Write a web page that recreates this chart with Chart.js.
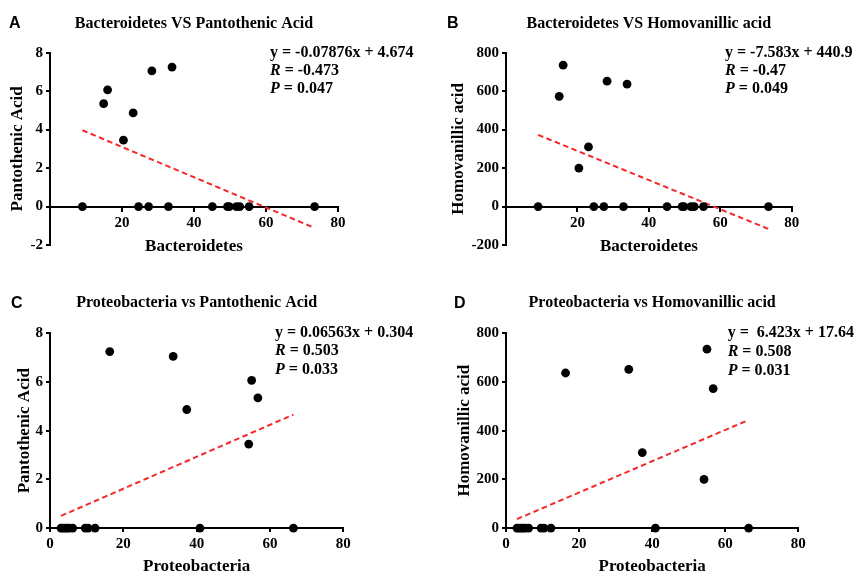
<!DOCTYPE html>
<html>
<head>
<meta charset="utf-8">
<script src="https://cdn.jsdelivr.net/npm/chart.js@4.4.1/dist/chart.umd.min.js"></script>
<style>
  html, body { margin: 0; padding: 0; background: #fff; overflow: hidden; }
  .panel { position: absolute; }
</style>
</head>
<body>
<div class="panel" style="left:0;top:0;width:430px;height:290px"><canvas id="chart-a"></canvas></div>
<div class="panel" style="left:430px;top:0;width:433px;height:290px"><canvas id="chart-b"></canvas></div>
<div class="panel" style="left:0;top:290px;width:430px;height:287px"><canvas id="chart-c"></canvas></div>
<div class="panel" style="left:430px;top:290px;width:433px;height:287px"><canvas id="chart-d"></canvas></div>
<script>
// one entry per sample, the first six are the ones with a measurable metabolite
const bacteroidetes = [14.9, 16.0, 20.4, 23.1, 28.3, 33.9, 9.0, 24.6, 27.4, 32.9, 45.1, 49.3, 49.8, 51.8, 52.7, 55.3, 73.5];
const proteobacteria = [56.7, 55.0, 54.2, 37.3, 33.6, 16.3, 3.0, 3.5, 4.1, 4.7, 5.3, 6.2, 9.6, 10.4, 12.3, 40.9, 66.4];
const pantothenicAcid = [5.35, 6.07, 3.45, 4.87, 7.05, 7.25, 0, 0, 0, 0, 0, 0, 0, 0, 0, 0, 0];
const homovanillicAcid = [573, 735, 200, 310, 652, 637, 0, 0, 0, 0, 0, 0, 0, 0, 0, 0, 0];

const panelLetters = ['A', 'B', 'C', 'D'];
const panelTitles = [
    'Bacteroidetes VS Pantothenic Acid',
    'Bacteroidetes VS Homovanillic acid',
    'Proteobacteria vs Pantothenic Acid',
    'Proteobacteria vs Homovanillic acid'
];
const fitSlopes = [-0.07876, -7.583, 0.06563, 6.423];
const fitIntercepts = [4.674, 440.9, 0.304, 17.64];
const fitEquations = ['y = -0.07876x + 4.674', 'y = -7.583x + 440.9', 'y = 0.06563x + 0.304', 'y =  6.423x + 17.64'];
const rValues = ['-0.473', '-0.47', '0.503', '0.508'];
const pValues = ['0.047', '0.049', '0.033', '0.031'];
const yMins = [-2, -200, 0, 0];
const yMaxs = [8, 800, 8, 800];
const ySteps = [2, 200, 2, 200];
const xMin = 0;
const xMax = 80;
const xStep = 20;

const serif = '"Liberation Serif", "Times New Roman", serif';

const statsPlugin = {
    id: 'stats',
    afterDraw(chart, args, opts) {
        const ctx = chart.ctx;
        ctx.save();
        ctx.fillStyle = '#000';
        ctx.textBaseline = 'middle';
        ctx.textAlign = 'left';
        ctx.font = 'bold 16px "Liberation Sans", Arial, sans-serif';
        ctx.fillText(opts.letter, opts.letterX, opts.letterY);
        ctx.font = 'bold 16px ' + serif;
        ctx.fillText(opts.equation, opts.textX, opts.textY);
        [['R', opts.r], ['P', opts.p]].forEach(function (pair, k) {
            const y = opts.textY + (k + 1) * opts.lineGap;
            ctx.font = 'italic bold 16px ' + serif;
            ctx.fillText(pair[0], opts.textX, y);
            const w = ctx.measureText(pair[0]).width;
            ctx.font = 'bold 16px ' + serif;
            ctx.fillText(' = ' + pair[1], opts.textX + w, y);
        });
        ctx.restore();
    }
};

const layouts = [
    { chartLeft: 50, padRight: 92, padBottom: 45, titlePad: { top: 14.4, bottom: 19.1 }, yTitlePad: 7.3, xTitlePad: 1, letterX: 9, letterY: 23.5, textX: 270, textY: 53, lineGap: 18, crossAtZero: true },
    { chartLeft: 76, padRight: 71.3, padBottom: 45, titlePad: { top: 14.4, bottom: 19.1 }, yTitlePad: 18.3, xTitlePad: 1, letterX: 17, letterY: 24, textX: 295, textY: 53, lineGap: 18, crossAtZero: true },
    { chartLeft: 50, padRight: 86.7, padBottom: 0, titlePad: { top: 3.7, bottom: 20.4 }, yTitlePad: 14.8, xTitlePad: 0, letterX: 11, letterY: 14, textX: 275, textY: 42.7, lineGap: 18.6, crossAtZero: false },
    { chartLeft: 76, padRight: 64.7, padBottom: 0, titlePad: { top: 3.7, bottom: 20.4 }, yTitlePad: 24.8, xTitlePad: 0, letterX: 24, letterY: 14, textX: 297.7, textY: 43.3, lineGap: 18.6, crossAtZero: false }
];

function makePanel(canvasId, i, xValues, yValues, xName, yName) {
    const lay = layouts[i];
    const points = xValues.map(function (x, k) { return { x: x, y: yValues[k] }; });
    const lo = Math.min.apply(null, xValues);
    const hi = Math.max.apply(null, xValues);
    const fitLine = [
        { x: lo, y: fitSlopes[i] * lo + fitIntercepts[i] },
        { x: hi, y: fitSlopes[i] * hi + fitIntercepts[i] }
    ];
    const tickFont = { family: serif, size: 15, weight: 'bold', lineHeight: 1.1 };
    const axisTitleFont = { family: serif, size: 17, weight: 'bold' };
    const gridStyle = { display: true, drawOnChartArea: false, drawTicks: true, tickLength: 4, color: '#000', lineWidth: 2 };

    return new Chart(document.getElementById(canvasId), {
        type: 'scatter',
        data: {
            datasets: [{
                data: points,
                backgroundColor: '#000',
                borderColor: '#000',
                pointRadius: 4.4,
                pointBorderWidth: 0,
                clip: false
            }, {
                data: fitLine,
                showLine: true,
                pointRadius: 0,
                borderColor: 'rgb(245, 40, 40)',
                borderWidth: 2,
                borderDash: [5.5, 3.5],
                clip: false
            }]
        },
        options: {
            responsive: true,
            maintainAspectRatio: false,
            animation: false,
            layout: {
                padding: { top: 0, left: 0, right: lay.padRight, bottom: lay.padBottom }
            },
            scales: {
                x: {
                    type: 'linear',
                    position: lay.crossAtZero ? { y: 0 } : 'bottom',
                    min: xMin,
                    max: xMax,
                    grid: gridStyle,
                    border: { display: true, color: '#000', width: 2 },
                    ticks: {
                        stepSize: xStep,
                        padding: 4,
                        color: '#000',
                        font: tickFont,
                        callback: function (v) { return (lay.crossAtZero && v === 0) ? '' : v; }
                    },
                    title: { display: true, text: xName, color: '#000', font: axisTitleFont, padding: { top: lay.xTitlePad, bottom: 0 } }
                },
                y: {
                    type: 'linear',
                    position: 'left',
                    min: yMins[i],
                    max: yMaxs[i],
                    grid: gridStyle,
                    border: { display: true, color: '#000', width: 2 },
                    ticks: { stepSize: ySteps[i], padding: 3, color: '#000', font: tickFont },
                    title: { display: true, text: yName, color: '#000', font: axisTitleFont, padding: { top: lay.yTitlePad, bottom: 0 } },
                    afterFit: function (scale) { scale.width = lay.chartLeft; }
                }
            },
            plugins: {
                legend: { display: false },
                tooltip: { enabled: false },
                title: {
                    display: true,
                    text: panelTitles[i],
                    fullSize: false,
                    color: '#000',
                    font: { family: serif, size: 16, weight: 'bold' },
                    padding: lay.titlePad
                },
                stats: {
                    letter: panelLetters[i],
                    letterX: lay.letterX,
                    letterY: lay.letterY,
                    equation: fitEquations[i],
                    r: rValues[i],
                    p: pValues[i],
                    textX: lay.textX,
                    textY: lay.textY,
                    lineGap: lay.lineGap
                }
            }
        },
        plugins: [statsPlugin]
    });
}

makePanel('chart-a', 0, bacteroidetes, pantothenicAcid, 'Bacteroidetes', 'Pantothenic Acid');
makePanel('chart-b', 1, bacteroidetes, homovanillicAcid, 'Bacteroidetes', 'Homovanillic acid');
makePanel('chart-c', 2, proteobacteria, pantothenicAcid, 'Proteobacteria', 'Pantothenic Acid');
makePanel('chart-d', 3, proteobacteria, homovanillicAcid, 'Proteobacteria', 'Homovanillic acid');
</script>
</body>
</html>
